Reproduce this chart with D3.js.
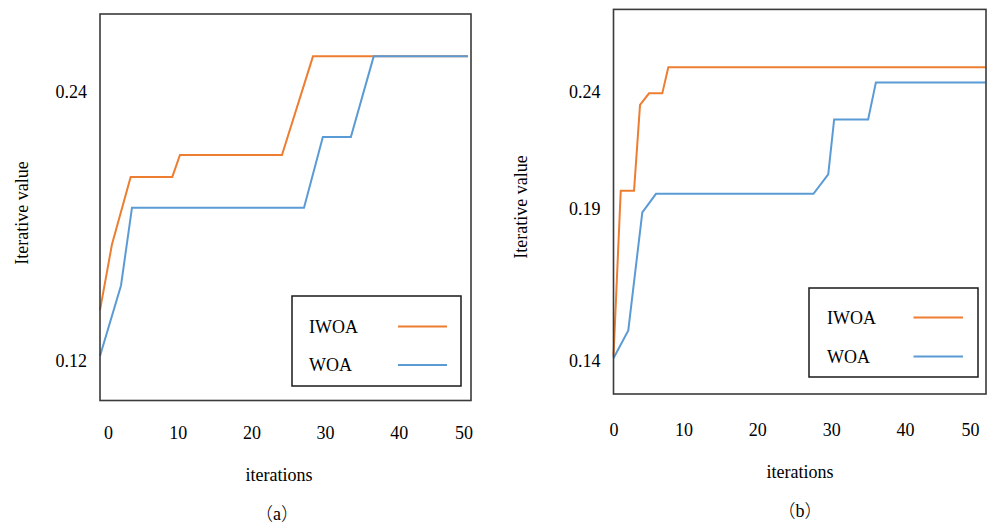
<!DOCTYPE html>
<html>
<head>
<meta charset="utf-8">
<script src="https://cdn.jsdelivr.net/npm/d3@7"></script>
<style>
  body { margin: 0; background: #fff; }
  svg text { font-family: "Liberation Serif", "Times New Roman", "DejaVu Serif", serif; fill: #000; }
</style>
</head>
<body>
<div id="chart"></div>
<script>
// ---------------------------------------------------------------------------- //
//                                     Data                                     //
// ---------------------------------------------------------------------------- //
const seriesNames = ["IWOA", "WOA"];
const xTicks = [0, 10, 20, 30, 40, 50];

// (a)
const iterA_IWOA = [-0.54, 1.09, 3.62, 9.27, 10.31, 24.15, 28.36, 49.4];
const valA_IWOA  = [0.1425, 0.1719, 0.2019, 0.2019, 0.2117, 0.2117, 0.2557, 0.2557];
const iterA_WOA  = [-0.54, 2.31, 3.8, 27.14, 29.7, 33.5, 36.6, 49.4];
const valA_WOA   = [0.122, 0.1535, 0.1882, 0.1882, 0.2197, 0.2197, 0.2557, 0.2557];
const yTicksA    = [0.12, 0.24];

// (b)
const iterB_IWOA = [0.54, 1.52, 3.32, 4.13, 5.35, 7.14, 7.96, 50.9];
const valB_IWOA  = [0.1412, 0.1968, 0.1968, 0.2337, 0.2392, 0.2392, 0.2520, 0.2520];
const iterB_WOA  = [0.54, 2.54, 4.44, 6.29, 27.6, 29.6, 30.4, 35.0, 36.05, 50.9];
const valB_WOA   = [0.1407, 0.1488, 0.1885, 0.1956, 0.1956, 0.2034, 0.2270, 0.2270, 0.2445, 0.2445];
const yTicksB    = [0.14, 0.19, 0.24];

// ---------------------------------------------------------------------------- //
//                                    Layout                                    //
// ---------------------------------------------------------------------------- //
const COLORS = ["#ED7D31", "#5B9BD5"];
const FONT = 18;
const SERIF = "'Liberation Serif', 'Times New Roman', 'DejaVu Serif', serif";

const panels = [
  {
    caption: "a",
    frame: {left: 100, right: 471, top: 14, bottom: 400.5},
    xDomain: [-0.54, 49.8],
    y: d3.scaleLinear().domain([0.10216, 0.2746]),
    yTicks: yTicksA,
    series: [[iterA_IWOA, valA_IWOA], [iterA_WOA, valA_WOA]],
    xPad: 25.5,
    yTitle: [28, 213],
    xTitle: [279, 481],
    capPos: [277, 520],
    legend: {x0: 292, y0: 296, x1: 461, y1: 386, textX: 309, rowY: [326.5, 365], lineX: [398, 447]}
  },
  {
    caption: "b",
    frame: {left: 613.5, right: 986, top: 9.4, bottom: 394},
    xDomain: [0.54, 50.95],
    y: d3.scaleLog().domain([0.1310, 0.2830]),
    yTicks: yTicksB,
    series: [[iterB_IWOA, valB_IWOA], [iterB_WOA, valB_WOA]],
    xPad: 29,
    yTitle: [527, 207],
    xTitle: [800, 478],
    capPos: [800, 517],
    legend: {x0: 809, y0: 288, x1: 978, y1: 377, textX: 827, rowY: [317.5, 356.5], lineX: [913.5, 963]}
  }
];

const svg = d3.select("#chart").append("svg")
  .attr("width", 996)
  .attr("height", 528);

// ---------------------------------------------------------------------------- //
//                                    Panels                                    //
// ---------------------------------------------------------------------------- //
panels.forEach(function(p) {
  const f = p.frame;
  const x = d3.scaleLinear().domain(p.xDomain).range([f.left, f.right]);
  const y = p.y.range([f.bottom, f.top]);

  const g = svg.append("g");

  // Y axis labels
  const yAxis = g.append("g")
    .attr("transform", "translate(" + f.left + ",0)")
    .call(d3.axisLeft(y).tickValues(p.yTicks).tickSize(0).tickPadding(13)
      .tickFormat(d3.format(".2f")));
  yAxis.select(".domain").remove();
  yAxis.selectAll("text").style("font-size", FONT + "px")
    .style("font-family", SERIF).attr("fill", "#000");

  // X axis labels (end labels nudged inward)
  const xAxis = g.append("g")
    .attr("transform", "translate(0," + f.bottom + ")")
    .call(d3.axisBottom(x).tickValues(xTicks).tickSize(0).tickPadding(p.xPad)
      .tickFormat(d3.format("d")));
  xAxis.select(".domain").remove();
  xAxis.selectAll("text").style("font-size", FONT + "px")
    .style("font-family", SERIF).attr("fill", "#000")
    .attr("dx", function(d, i) { return i === 0 ? 4 : (i === xTicks.length - 1 ? -9 : 0); });

  // Lines
  const line = d3.line().x(function(d) { return x(d[0]); }).y(function(d) { return y(d[1]); });
  p.series.forEach(function(s, si) {
    const pts = s[0].map(function(v, i) { return [v, s[1][i]]; });
    g.append("path")
      .datum(pts)
      .attr("fill", "none")
      .attr("stroke", COLORS[si])
      .attr("stroke-width", 2)
      .attr("stroke-linejoin", "miter")
      .attr("d", line);
  });

  // Frame
  g.append("rect")
    .attr("x", f.left).attr("y", f.top)
    .attr("width", f.right - f.left).attr("height", f.bottom - f.top)
    .attr("fill", "none").attr("stroke", "#3a3a3a").attr("stroke-width", 1.6);

  // Legend
  const L = p.legend;
  g.append("rect")
    .attr("x", L.x0).attr("y", L.y0)
    .attr("width", L.x1 - L.x0).attr("height", L.y1 - L.y0)
    .attr("fill", "#fff").attr("stroke", "#1a1a1a").attr("stroke-width", 1.5);
  seriesNames.forEach(function(name, si) {
    g.append("text")
      .attr("x", L.textX).attr("y", L.rowY[si])
      .attr("dy", "0.35em")
      .style("font-size", FONT + "px")
      .text(name);
    g.append("line")
      .attr("x1", L.lineX[0]).attr("x2", L.lineX[1])
      .attr("y1", L.rowY[si]).attr("y2", L.rowY[si])
      .attr("stroke", COLORS[si]).attr("stroke-width", 1.8);
  });

  // Axis titles
  g.append("text")
    .attr("transform", "translate(" + p.yTitle[0] + "," + p.yTitle[1] + ") rotate(-90)")
    .attr("text-anchor", "middle")
    .style("font-size", FONT + "px")
    .text("Iterative value");

  g.append("text")
    .attr("x", p.xTitle[0]).attr("y", p.xTitle[1])
    .attr("text-anchor", "middle")
    .style("font-size", FONT + "px")
    .text("iterations");

  // Caption: full-width parentheses around the serif letter
  const cap = g.append("text")
    .attr("x", p.capPos[0]).attr("y", p.capPos[1])
    .attr("text-anchor", "middle")
    .style("font-size", "18px");
  cap.append("tspan").style("font-family", "'Noto Sans CJK SC', sans-serif")
    .style("font-weight", 300).text("（");
  cap.append("tspan").style("font-family", SERIF).text(p.caption);
  cap.append("tspan").style("font-family", "'Noto Sans CJK SC', sans-serif")
    .style("font-weight", 300).text("）");
});
</script>
</body>
</html>
